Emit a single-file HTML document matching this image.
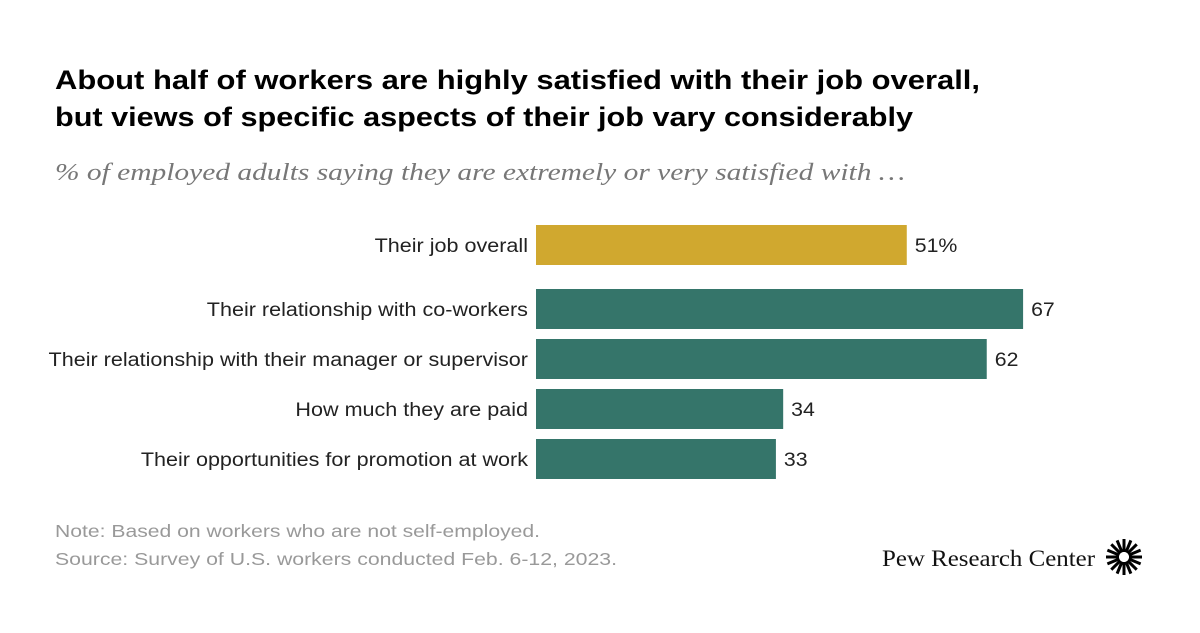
<!DOCTYPE html>
<html><head><meta charset="utf-8"><style>
body{margin:0;background:#fff;width:1200px;height:628px;overflow:hidden;font-family:"Liberation Sans",sans-serif}
</style></head><body>
<svg width="1200" height="628">
<text class="fit" data-end="980" x="55" y="89" font-size="27" font-weight="bold" fill="#000">About half of workers are highly satisfied with their job overall,</text>
<text class="fit" data-end="913" x="55" y="126" font-size="27" font-weight="bold" fill="#000">but views of specific aspects of their job vary considerably</text>
<text class="fit" data-end="905" x="55" y="180" font-size="24" font-style="italic" font-family="Liberation Serif,serif" fill="#777">% of employed adults saying they are extremely or very satisfied with …</text>
<g id="bars"></g>
<text class="fit" data-end="540" x="55" y="537" font-size="17.5" fill="#999">Note: Based on workers who are not self-employed.</text>
<text class="fit" data-end="617" x="55" y="565" font-size="17.5" fill="#999">Source: Survey of U.S. workers conducted Feb. 6-12, 2023.</text>
<text class="fit" data-end="1095" x="882" y="566" font-size="23" font-family="Liberation Serif,serif" fill="#111">Pew Research Center</text>
<g id="logo" transform="translate(1124,557)"></g>
</svg>
<script>
const categories=["Their job overall","Their relationship with co-workers","Their relationship with their manager or supervisor","How much they are paid","Their opportunities for promotion at work"];
const values=[51,67,62,34,33];
const labels=["51%","67","62","34","33"];
const ns="http://www.w3.org/2000/svg";
const x0=536,scale=7.27;
const tops=[225,289,339,389,439];
function xs(v){return v*scale;}
function stretch(t,k){const w=t.getComputedTextLength();t.setAttribute('textLength',w*k);t.setAttribute('lengthAdjust','spacingAndGlyphs');}
const g=document.getElementById('bars');
categories.forEach((c,i)=>{
 const y=tops[i];
 const r=document.createElementNS(ns,'rect');
 r.setAttribute('x',x0);r.setAttribute('y',y);r.setAttribute('width',xs(values[i]));r.setAttribute('height',40);
 r.setAttribute('fill',i==0?'#d0a82f':'#35756a');
 
 
 g.appendChild(r);
 const t=document.createElementNS(ns,'text');
 t.setAttribute('x',528);t.setAttribute('y',y+27);t.setAttribute('text-anchor','end');t.setAttribute('font-size','19');t.setAttribute('fill','#222');
 t.textContent=c;
 
 
 g.appendChild(t);
 stretch(t,1.135);
 const v=document.createElementNS(ns,'text');
 v.setAttribute('x',x0+xs(values[i])+8);v.setAttribute('y',y+27);v.setAttribute('font-size','19');v.setAttribute('fill','#222');
 v.textContent=labels[i];
 
 
 g.appendChild(v);
 stretch(v,1.12);
});
document.querySelectorAll('text.fit').forEach(t=>{
 const w=(+t.getAttribute('data-end'))-(+t.getAttribute('x'));
 t.setAttribute('textLength',w);t.setAttribute('lengthAdjust','spacingAndGlyphs');
});
const lg=document.getElementById('logo');
for(let k=0;k<16;k++){
 const l=document.createElementNS(ns,'line');
 const a=k*Math.PI/8;
 l.setAttribute('x1',Math.cos(a)*5);l.setAttribute('y1',Math.sin(a)*5);
 l.setAttribute('x2',Math.cos(a)*18);l.setAttribute('y2',Math.sin(a)*18);
 l.setAttribute('stroke','#000');l.setAttribute('stroke-width','3');
 lg.appendChild(l);
}
</script>
</body></html>
